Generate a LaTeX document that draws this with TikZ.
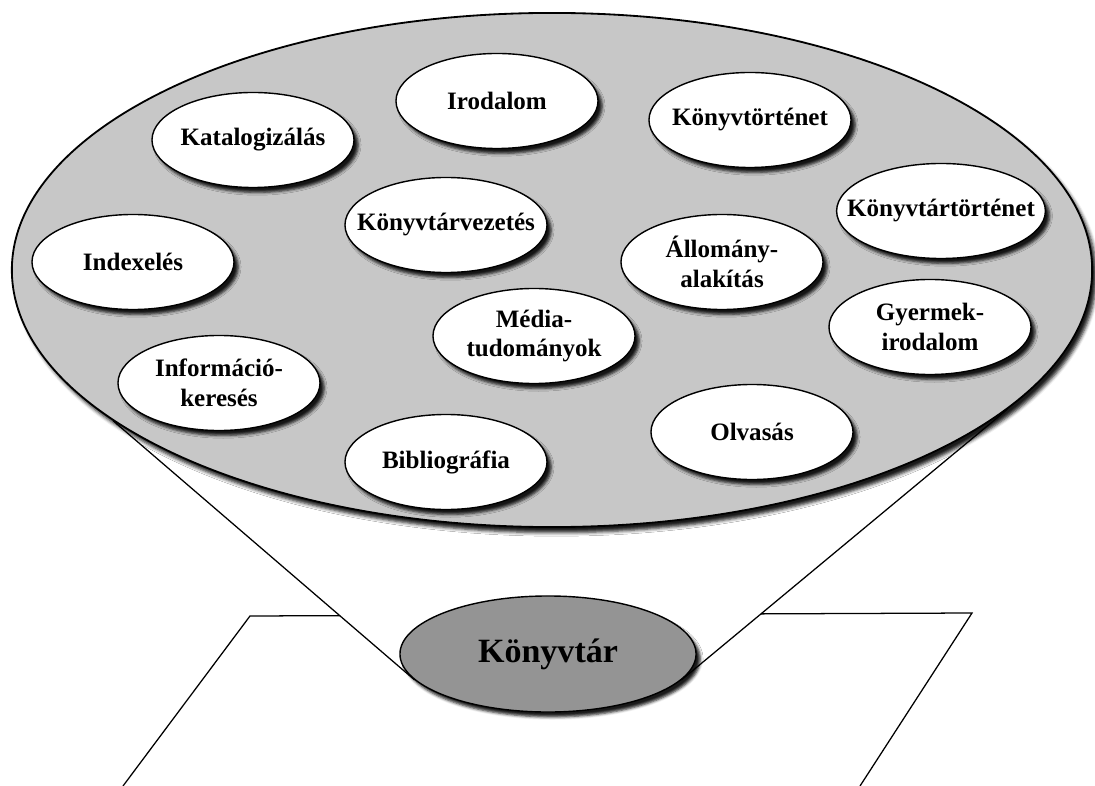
\documentclass[tikz,border=0pt]{standalone}
\usepackage{fontspec}
\setmainfont{Liberation Serif}
\usetikzlibrary{shapes,backgrounds,shadows.blur,calc}

\begin{document}
\begin{tikzpicture}[x=0.025cm,y=-0.025cm,thick]
\tikzstyle{field}=[draw=black, line width=1.3pt, ellipse, fill=black!22, minimum width=27cm, minimum height=12.85cm, blur shadow={shadow xshift=3pt, shadow yshift=-4pt, shadow blur radius=2.5pt, shadow opacity=90}]
\tikzstyle{topic}=[draw=black, line width=1pt, ellipse, fill=white, minimum width=5.05cm, minimum height=2.375cm, inner xsep=-0.5cm, inner ysep=0pt, align=center, font=\bfseries\fontsize{17.8}{21.3}\selectfont, blur shadow={shadow xshift=3pt, shadow yshift=-3.5pt, shadow blur radius=2pt, shadow opacity=90}]
\tikzstyle{core}=[topic, fill=black!42, minimum width=7.4cm, minimum height=2.9cm, font=\bfseries\fontsize{24.2}{28}\selectfont]
\tikzstyle{plane}=[line width=0.9pt]

\useasboundingbox (0,0) rectangle (1095,786);

\node[field] (field) at (552,270) {};

\node[topic] (irod)    at (497,101) {Irodalom};
\node[topic] (ktort)   at (750,120) {Könyvtörténet};
\node[topic] (katal)   at (253,140) {Katalogizálás};
\node[topic] (kvezet)  at (446,225) {Könyvtárvezetés};
\node[topic] (ktartort) at (941,211) {Könyvtártörténet};
\node[topic] (index)   at (133,262) {Indexelés};
\node[topic] (allom)   at (722,262) {Állomány-\\alakítás};
\node[topic] (gyerm)   at (930,327) {Gyermek-\\irodalom};
\node[topic] (media)   at (534,336) {Média-\\tudományok};
\node[topic] (infker)  at (219,383) {Információ-\\keresés};
\node[topic] (olvas)   at (752,432) {Olvasás};
\node[topic] (biblio)  at (446,462) {Bibliográfia};

\node[core] (lib) at (548,654) {Könyvtár};

\begin{scope}[on background layer]
% plane under the library
\draw[plane] (123,786) -- (250,616) -- (972,613) -- (860,786);
% cone from library to the field
\fill[white] (field.199) -- (lib.191) -- (lib.-11) -- (field.-17) -- cycle;
\draw[plane] (field.199) -- (lib.191);
\draw[plane] (field.-17) -- (lib.-11);
\end{scope}
\end{tikzpicture}
\end{document}
